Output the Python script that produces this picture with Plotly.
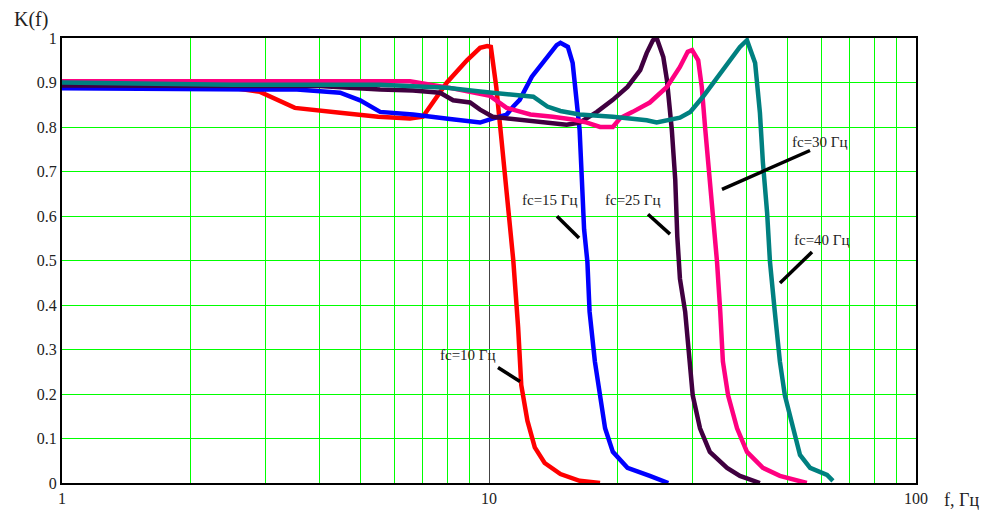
import plotly.graph_objects as go

# ---- data (frequency in Hz, transfer coefficient K) ----
f_10 = [1, 2.5, 2.91, 3.2, 3.51, 4.48, 5.5, 6.53, 7.0, 7.97, 8.88, 9.53, 9.9, 10.1, 10.4,
        10.7, 11.1, 11.4, 11.7, 11.9, 12.3, 12.8, 13.5, 14.7, 16.3, 18.2]
k_10 = [0.888, 0.888, 0.879, 0.86, 0.843, 0.832, 0.823, 0.819, 0.823, 0.90, 0.95, 0.978, 0.982,
        0.98, 0.89, 0.77, 0.62, 0.5, 0.35, 0.22, 0.14, 0.08, 0.045, 0.02, 0.005, 0.0]

f_15 = [1, 2.1, 3.55, 4.48, 4.99, 5.56, 6.64, 8.1, 9.53, 10.05, 11.0, 11.4, 11.8, 12.6, 13.7,
        14.4, 14.7, 15.3, 15.7, 16.1, 16.3, 16.5, 16.7, 17.0, 17.2, 17.7, 18.2, 18.7, 19.5,
        21.1, 23.8, 26.3]
k_15 = [0.887, 0.886, 0.884, 0.877, 0.86, 0.834, 0.828, 0.818, 0.81, 0.817, 0.828, 0.846,
        0.861, 0.913, 0.957, 0.984, 0.989, 0.98, 0.944, 0.855, 0.794, 0.682, 0.57, 0.497,
        0.385, 0.273, 0.197, 0.123, 0.07, 0.034, 0.016, 0.0]

f_25 = [1, 4.0, 5.56, 6.64, 7.68, 8.24, 9.03, 9.53, 10.2, 11.8, 13.7, 15.2, 16.3, 17.9, 19.5,
        21.1, 22.6, 23.4, 24.2, 24.7, 25.6, 26.1, 26.8, 27.3, 27.6, 28.0, 28.8, 29.6, 30.0,
        31.2, 32.9, 36.1, 38.7, 43.1]
k_25 = [0.893, 0.892, 0.884, 0.882, 0.877, 0.86, 0.855, 0.839, 0.823, 0.817, 0.81, 0.805,
        0.81, 0.834, 0.861, 0.89, 0.928, 0.966, 0.995, 1.0, 0.957, 0.906, 0.794, 0.682, 0.555,
        0.459, 0.385, 0.273, 0.197, 0.123, 0.07, 0.034, 0.016, 0.0]

f_30 = [1, 6.53, 8.1, 10.05, 11.0, 12.5, 14.1, 15.7, 16.96, 18.2, 19.5, 20.3, 21.7, 23.8,
        26.1, 28.0, 29.2, 29.9, 30.9, 31.5, 32.1, 32.9, 33.5, 34.2, 34.8, 35.3, 36.3, 38.1,
        40.2, 43.8, 48.0, 55.5]
k_30 = [0.903, 0.903, 0.888, 0.87, 0.843, 0.828, 0.823, 0.817, 0.81, 0.80, 0.80, 0.82, 0.834,
        0.855, 0.89, 0.935, 0.969, 0.973, 0.95, 0.89, 0.794, 0.682, 0.608, 0.497, 0.385,
        0.273, 0.197, 0.123, 0.07, 0.034, 0.016, 0.0]

f_40 = [1, 2.5, 5.56, 7.97, 9.53, 11.4, 12.7, 13.7, 14.7, 16.3, 19.5, 23.4, 24.7, 28.0, 29.6,
        31.7, 34.2, 36.7, 38.7, 40.2, 42.0, 43.1, 43.8, 44.8, 45.5, 46.7, 48.0, 49.3, 51.5,
        53.5, 56.5, 61.9, 63.9]
k_40 = [0.9, 0.895, 0.895, 0.888, 0.88, 0.872, 0.868, 0.846, 0.836, 0.828, 0.823, 0.815, 0.81,
        0.821, 0.834, 0.868, 0.91, 0.95, 0.98, 0.995, 0.944, 0.832, 0.72, 0.608, 0.497, 0.385,
        0.273, 0.197, 0.123, 0.063, 0.034, 0.018, 0.005]

x_tick_vals = [1, 10, 100]
x_tick_text = ["1", "10", "100"]
x_minor_vals = [2, 3, 4, 5, 6, 7, 8, 9, 20, 30, 40, 50, 60, 70, 80, 90]
labels = ["fc=10 Гц", "fc=15 Гц", "fc=25 Гц", "fc=30 Гц", "fc=40 Гц"]

series = [
    (f_10, k_10, "#ff0000"),
    (f_15, k_15, "#0000ff"),
    (f_25, k_25, "#400040"),
    (f_30, k_30, "#ff0080"),
    (f_40, k_40, "#008080"),
]

fig = go.Figure()
for f, k, c in series:
    fig.add_trace(go.Scatter(x=f, y=k, mode="lines", line=dict(color=c, width=4.5),
                             showlegend=False, hoverinfo="skip"))

# plot-area geometry in pixels
L, R, T, B = 62, 916, 38, 485
W, H = 994, 519


def px(x):
    return (x - L) / (R - L)


def py(y):
    return (B - y) / (B - T)


serif = "Liberation Serif"
tcol = "#222222"

annotations = [
    dict(text="K(f)", x=px(12), y=py(19), xanchor="left", yanchor="middle",
         font=dict(family=serif, size=20, color=tcol)),
    dict(text="f, Гц", x=px(942), y=py(502), xanchor="left", yanchor="middle",
         font=dict(family=serif, size=18, color=tcol)),
]
label_pos = [(468, 356), (550, 201), (633, 201), (820, 142), (822, 241)]
for t, (lx, ly) in zip(labels, label_pos):
    annotations.append(dict(text=t, x=px(lx), y=py(ly), xanchor="center", yanchor="middle",
                            font=dict(family=serif, size=15, color=tcol)))
for a in annotations:
    a.update(xref="paper", yref="paper", showarrow=False)

pointer_lines = [((498, 369), (520, 383)), ((557, 217), (579, 239)), ((648, 215), (670, 235)),
                 ((810, 151), (722, 190)), ((812, 253), (780, 284))]
shapes = [dict(type="line", xref="paper", yref="paper", x0=px(a[0]), y0=py(a[1]),
               x1=px(b[0]), y1=py(b[1]), line=dict(color="black", width=3.5))
          for a, b in pointer_lines]

fig.update_layout(
    width=W, height=H,
    margin=dict(l=L, r=W - R, t=T, b=H - B),
    paper_bgcolor="white", plot_bgcolor="white",
    annotations=annotations, shapes=shapes,
    xaxis=dict(type="log", range=[0, 2], tickmode="array", tickvals=x_tick_vals,
               ticktext=x_tick_text, showgrid=True, gridcolor="#444444", gridwidth=1.3,
               minor=dict(tickmode="array", tickvals=x_minor_vals, showgrid=True,
                          gridcolor="#00ff00", gridwidth=1.4, ticks=""),
               showline=True, mirror=True, linecolor="black", linewidth=2, ticks="",
               zeroline=False, tickfont=dict(family=serif, size=16, color=tcol)),
    yaxis=dict(range=[0, 1], tickmode="linear", tick0=0, dtick=0.1, showgrid=True,
               gridcolor="#00ff00", gridwidth=1.2, showline=True, mirror=True,
               linecolor="black", linewidth=2, ticks="", zeroline=False,
               tickfont=dict(family=serif, size=16, color=tcol)),
)

fig.write_html("out.html")
